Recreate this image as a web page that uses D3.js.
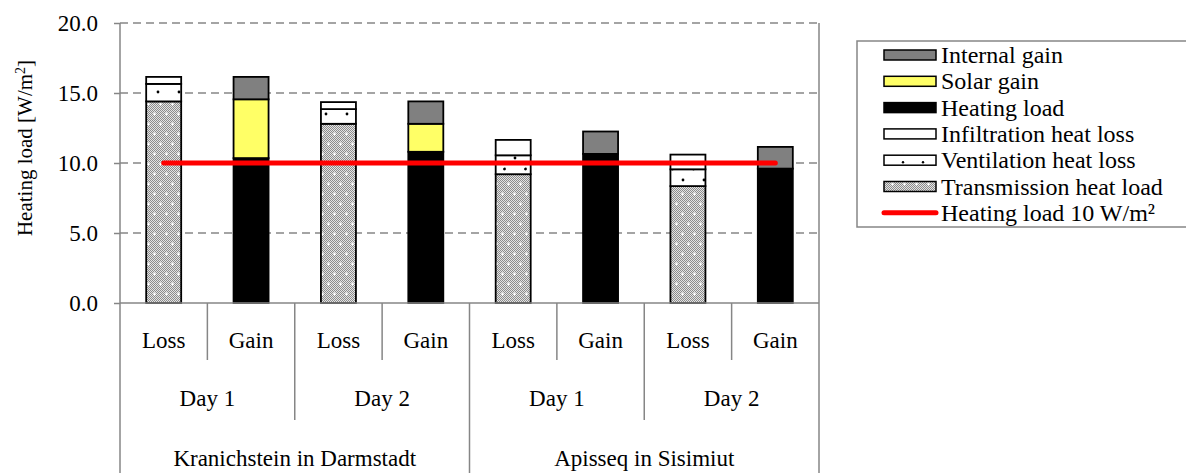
<!DOCTYPE html>
<html>
<head>
<meta charset="utf-8">
<script src="https://cdn.jsdelivr.net/npm/d3@7"></script>
<style>
  body { margin: 0; background: #fff; }
  svg text { font-family: "Liberation Serif", "Times New Roman", serif; fill: #000; }
</style>
</head>
<body>
<div id="chart"></div>
<script>
// categories (three level axis)
var bars = ['Loss', 'Gain', 'Loss', 'Gain', 'Loss', 'Gain', 'Loss', 'Gain']
var days = ['Day 1', 'Day 2', 'Day 1', 'Day 2']
var places = ['Kranichstein in Darmstadt', 'Apisseq in Sisimiut']

// series values, W/m2
var transmission = [14.4, 0, 12.8, 0, 9.2, 0, 8.35, 0]
var ventilation = [1.25, 0, 1.05, 0, 1.35, 0, 1.2, 0]
var infiltration = [0.5, 0, 0.5, 0, 1.1, 0, 1.05, 0]
var heating = [0, 10.35, 0, 10.8, 0, 10.65, 0, 9.6]
var solar = [0, 4.2, 0, 2.0, 0, 0, 0, 0]
var internal = [0, 1.6, 0, 1.6, 0, 1.6, 0, 1.55]
var limit = 10

var yTicks = [0, 5, 10, 15, 20]

var keys = ['transmission', 'ventilation', 'infiltration', 'heating', 'solar', 'internal']
var legendOrder = ['internal', 'solar', 'heating', 'infiltration', 'ventilation', 'transmission']
var names = {
  internal: 'Internal gain',
  solar: 'Solar gain',
  heating: 'Heating load',
  infiltration: 'Infiltration heat loss',
  ventilation: 'Ventilation heat loss',
  transmission: 'Transmission heat load'
}
var fills = {
  internal: '#808080',
  solar: '#ffff66',
  heating: '#000000',
  infiltration: '#ffffff',
  ventilation: 'url(#vent)',
  transmission: 'url(#trans)'
}

var table = bars.map(function (b, i) {
  return {
    i: i,
    transmission: transmission[i],
    ventilation: ventilation[i],
    infiltration: infiltration[i],
    heating: heating[i],
    solar: solar[i],
    internal: internal[i]
  }
})

var W = 1186, H = 473
var plotLeft = 120, plotRight = 819, plotTop = 23, plotBase = 303
var grey = '#868686'
var fs = 23

var svg = d3.select('#chart').append('svg')
  .attr('width', W).attr('height', H)

// patterns
var defs = svg.append('defs')
var chk = defs.append('pattern').attr('id', 'chk')
  .attr('width', 2).attr('height', 2).attr('patternUnits', 'userSpaceOnUse')
chk.append('rect').attr('width', 2).attr('height', 2).attr('fill', '#e4e4e4')
chk.append('rect').attr('width', 1).attr('height', 1).attr('fill', '#8c8c8c')
chk.append('rect').attr('x', 1).attr('y', 1).attr('width', 1).attr('height', 1).attr('fill', '#8c8c8c')

var tr = defs.append('pattern').attr('id', 'trans')
  .attr('width', 12).attr('height', 20).attr('patternUnits', 'userSpaceOnUse')
tr.append('rect').attr('width', 12).attr('height', 20).attr('fill', 'url(#chk)')
tr.append('path').attr('d', 'M3,4h3M4.5,2.5v3M9,14h3M10.5,12.5v3')
  .attr('stroke', '#fff').attr('stroke-width', 1.2)

var vp = defs.append('pattern').attr('id', 'vent')
  .attr('width', 21).attr('height', 22).attr('patternUnits', 'userSpaceOnUse')
vp.append('rect').attr('width', 21).attr('height', 22).attr('fill', '#fff')
vp.append('circle').attr('cx', 11).attr('cy', 4).attr('r', 1.4).attr('fill', '#000')
vp.append('circle').attr('cx', 0.5).attr('cy', 15).attr('r', 1.4).attr('fill', '#000')
vp.append('circle').attr('cx', 21.5).attr('cy', 15).attr('r', 1.4).attr('fill', '#000')

var x = d3.scaleBand().domain(d3.range(bars.length)).range([plotLeft, plotRight])
var y = d3.scaleLinear().domain([0, 20]).range([plotBase, plotTop])
var bw = 35

// gridlines
svg.append('g').selectAll('line').data(yTicks.filter(function (d) { return d > 0 }))
  .enter().append('line')
  .attr('x1', plotLeft).attr('x2', plotRight)
  .attr('y1', function (d) { return y(d) }).attr('y2', function (d) { return y(d) })
  .attr('stroke', grey).attr('stroke-width', 1.5).attr('stroke-dasharray', '8,5')

// y axis
var yAxis = svg.append('g').attr('transform', 'translate(' + plotLeft + ',0)')
  .call(d3.axisLeft(y).tickValues(yTicks).tickFormat(d3.format('.1f')).tickSize(6).tickPadding(16))
yAxis.select('.domain').remove()
yAxis.selectAll('.tick line').attr('stroke', grey).attr('stroke-width', 1.5)
yAxis.selectAll('.tick text').style('font-size', fs + 'px')
  .style('font-family', '"Liberation Serif", "Times New Roman", serif').attr('fill', '#000')

var ylab = svg.append('text')
  .attr('transform', 'translate(32,148) rotate(-90)')
  .attr('text-anchor', 'middle')
  .style('font-size', '21px')
ylab.append('tspan').text('Heating load [W/m')
ylab.append('tspan').attr('baseline-shift', 'super').style('font-size', '14px').text('2')
ylab.append('tspan').text(']')

// bars
var stacked = d3.stack().keys(keys)(table)
svg.append('g').selectAll('g').data(stacked).enter().append('g')
  .attr('fill', function (s) { return fills[s.key] })
  .selectAll('rect').data(function (s) { return s.filter(function (d) { return d[1] - d[0] > 0 }) })
  .enter().append('rect')
  .attr('x', function (d) { return x(d.data.i) + (x.bandwidth() - bw) / 2 })
  .attr('width', bw)
  .attr('y', function (d) { return y(d[1]) })
  .attr('height', function (d) { return y(d[0]) - y(d[1]) })
  .attr('stroke', '#000').attr('stroke-width', 1.8)

// limit line
svg.append('line')
  .attr('x1', x(0) + x.bandwidth() / 2).attr('x2', x(bars.length - 1) + x.bandwidth() / 2)
  .attr('y1', y(limit)).attr('y2', y(limit))
  .attr('stroke', '#ff0000').attr('stroke-width', 5).attr('stroke-linecap', 'round')

// frame and category axis
var frame = svg.append('g').attr('stroke', grey).attr('stroke-width', 1.5)
frame.append('line').attr('x1', plotLeft).attr('x2', plotLeft).attr('y1', plotTop).attr('y2', H)
frame.append('line').attr('x1', plotRight).attr('x2', plotRight).attr('y1', plotTop).attr('y2', H)
frame.append('line').attr('x1', plotLeft).attr('x2', plotRight).attr('y1', plotBase).attr('y2', plotBase)
d3.range(1, bars.length).forEach(function (i) {
  var bottom = i % 4 === 0 ? H : (i % 2 === 0 ? 420 : 360)
  frame.append('line').attr('x1', x(i)).attr('x2', x(i)).attr('y1', plotBase).attr('y2', bottom)
})

var bwid = x.bandwidth()
svg.append('g').selectAll('text').data(bars).enter().append('text')
  .attr('x', function (d, i) { return x(i) + bwid / 2 }).attr('y', 348)
  .attr('text-anchor', 'middle').style('font-size', fs + 'px').text(function (d) { return d })
svg.append('g').selectAll('text').data(days).enter().append('text')
  .attr('x', function (d, i) { return x(i * 2) + bwid }).attr('y', 406)
  .attr('text-anchor', 'middle').style('font-size', fs + 'px').text(function (d) { return d })
svg.append('g').selectAll('text').data(places).enter().append('text')
  .attr('x', function (d, i) { return x(i * 4) + bwid * 2 }).attr('y', 466)
  .attr('text-anchor', 'middle').style('font-size', fs + 'px').text(function (d) { return d })

// legend
var lg = svg.append('g')
lg.append('rect').attr('x', 857).attr('y', 41).attr('width', 340).attr('height', 186)
  .attr('fill', '#fff').attr('stroke', grey).attr('stroke-width', 1.5)
var step = 26.3
legendOrder.forEach(function (k, i) {
  var cy = 55 + i * step
  lg.append('rect').attr('x', 884).attr('y', cy - 5).attr('width', 52).attr('height', 10)
    .attr('fill', k === 'ventilation' ? '#fff' : fills[k]).attr('stroke', '#000').attr('stroke-width', 1.5)
  if (k === 'ventilation') {
    lg.append('circle').attr('cx', 903).attr('cy', cy + 2).attr('r', 1.2).attr('fill', '#000')
    lg.append('circle').attr('cx', 923).attr('cy', cy + 2).attr('r', 1.2).attr('fill', '#000')
  }
  lg.append('text').attr('x', 941).attr('y', cy + 8).style('font-size', '24px').text(names[k])
})
var ly = 55 + legendOrder.length * step
lg.append('line').attr('x1', 884).attr('x2', 936).attr('y1', ly).attr('y2', ly)
  .attr('stroke', '#ff0000').attr('stroke-width', 5).attr('stroke-linecap', 'round')
lg.append('text').attr('x', 941).attr('y', ly + 8).style('font-size', '24px').text('Heating load ' + limit + ' W/m²')
</script>
</body>
</html>
